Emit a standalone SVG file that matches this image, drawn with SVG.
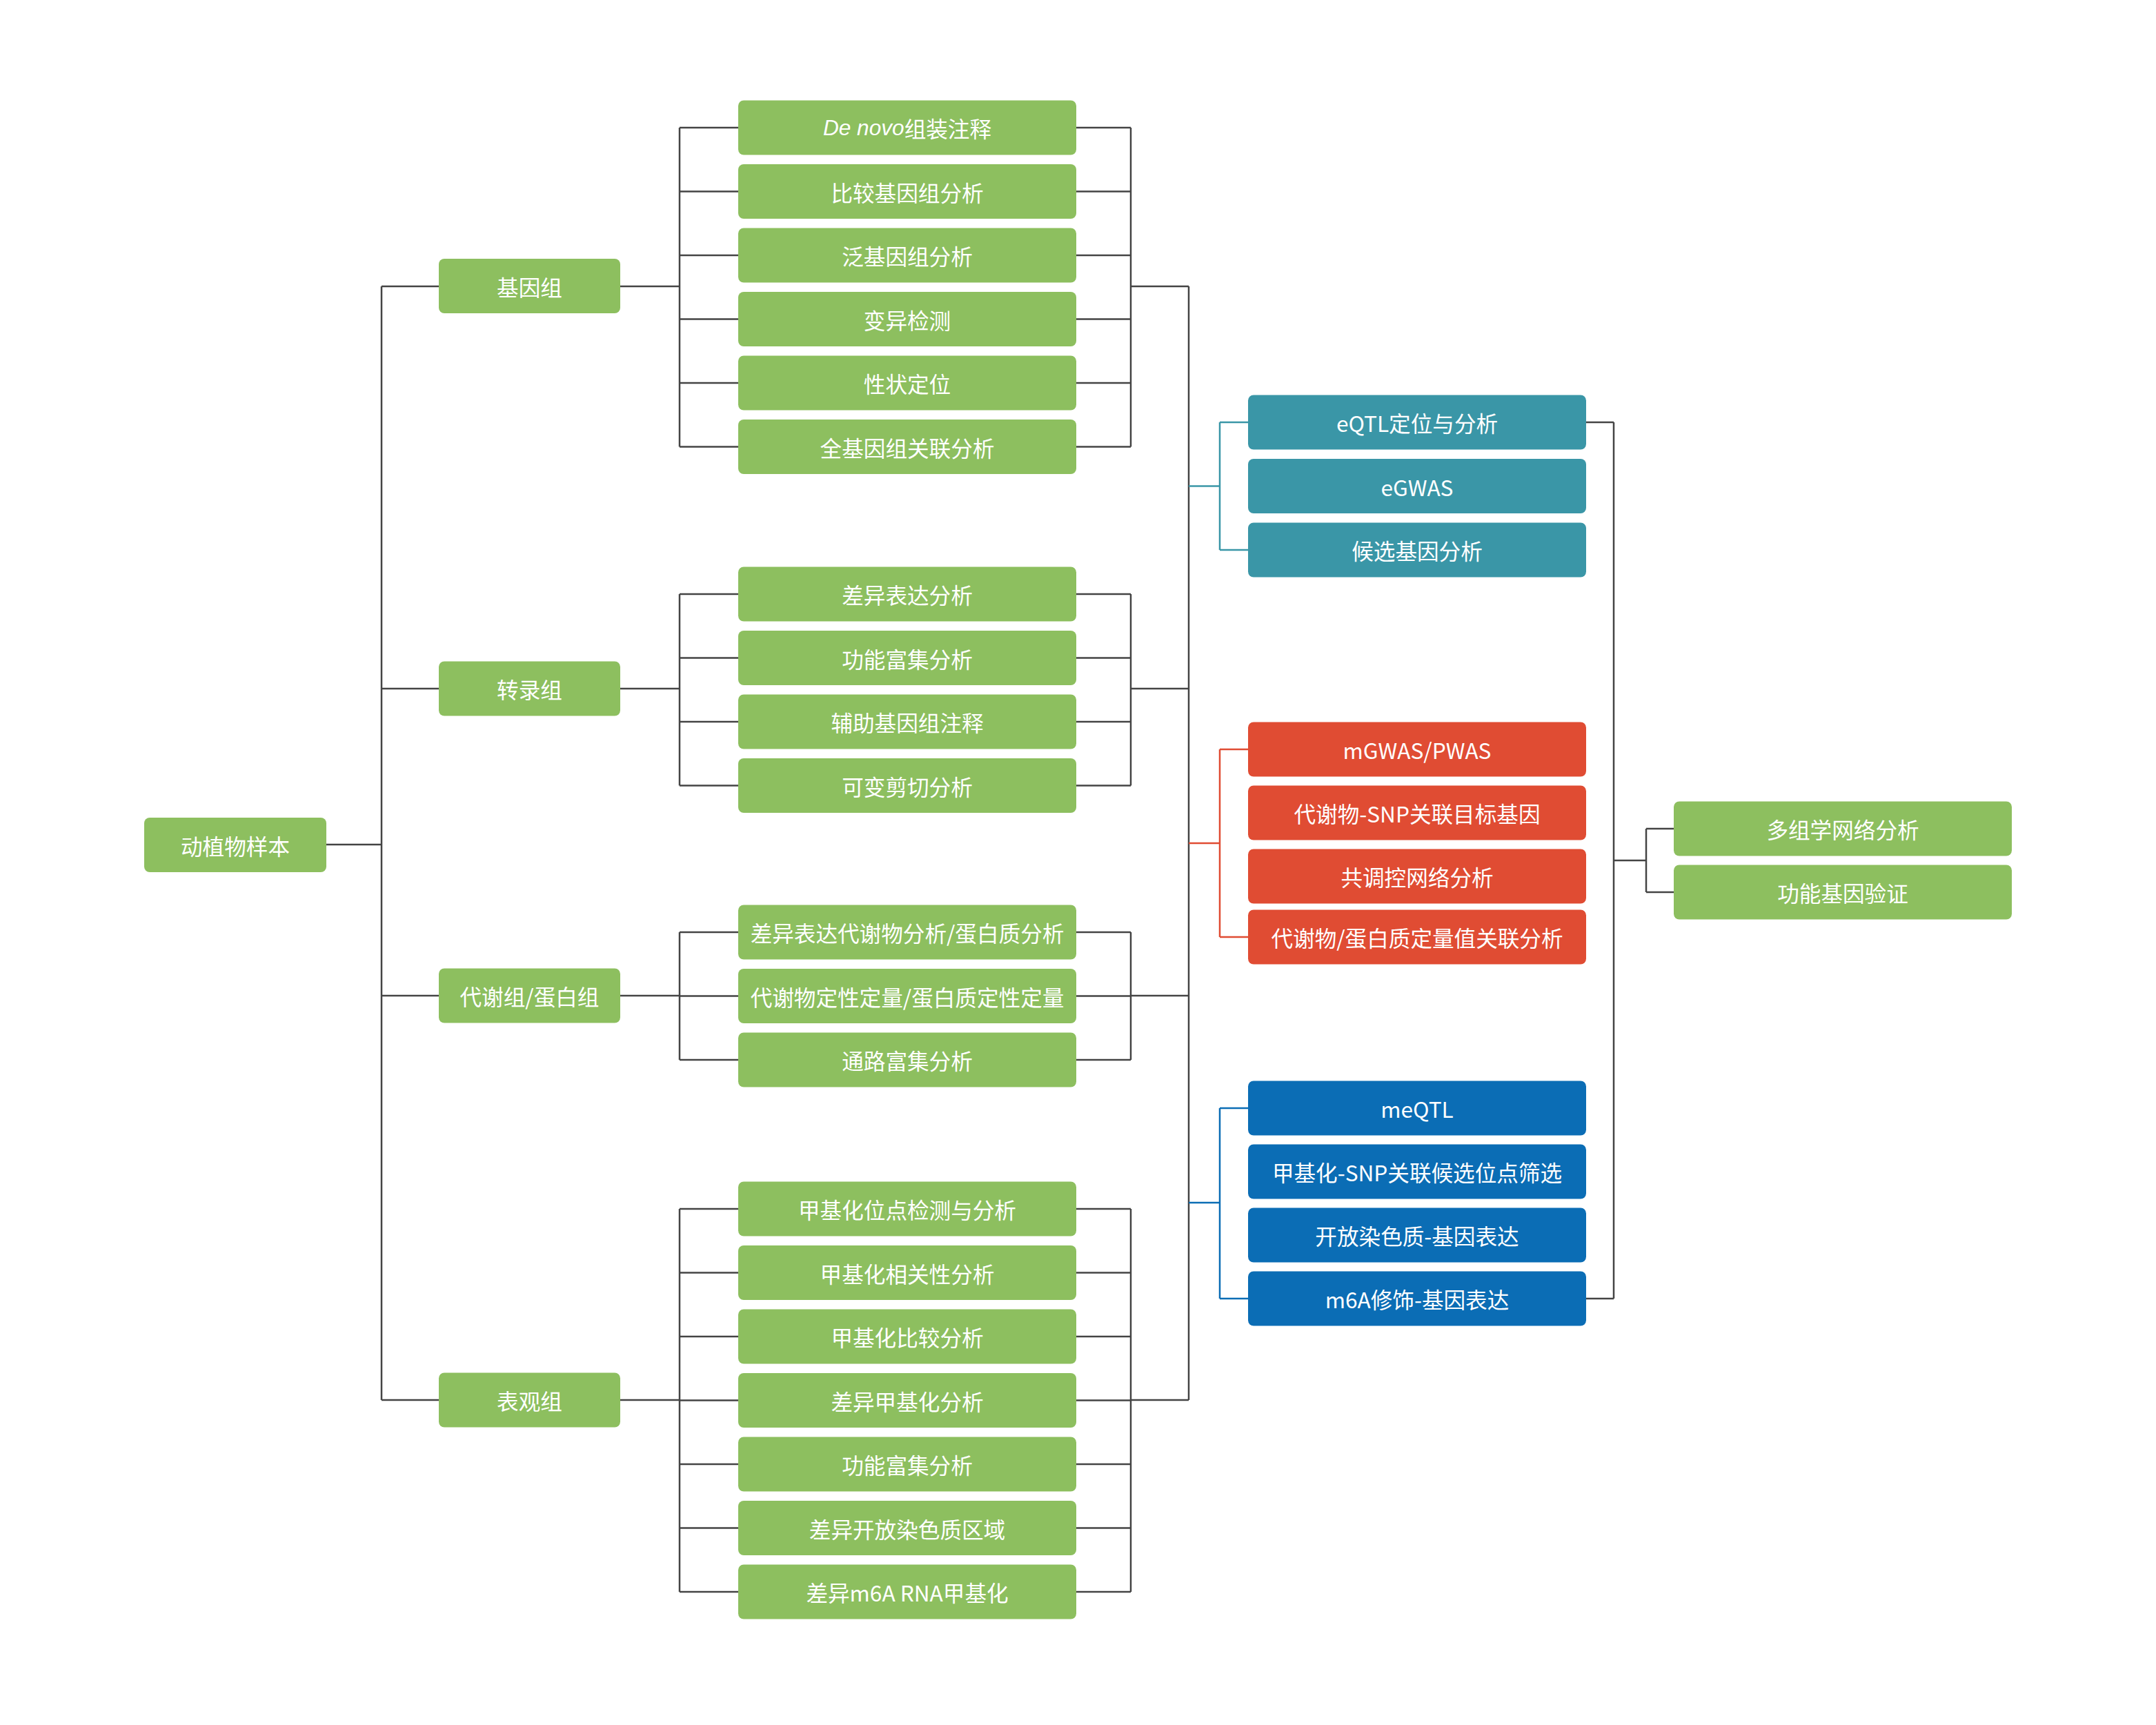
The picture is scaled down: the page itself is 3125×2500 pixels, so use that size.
<svg xmlns="http://www.w3.org/2000/svg" width="3125" height="2500" viewBox="0 0 3125 2500">
<style>
.g{fill:#8DBF5F}.t{fill:#3A96A7}.r{fill:#E04C33}.b{fill:#0B6DB5}
text{font-family:"Noto Sans CJK SC","Noto Sans",sans-serif;font-size:31.6px;font-weight:400;fill:#fff;text-anchor:middle;dominant-baseline:central}
.it{font-family:"Liberation Sans",Arial,sans-serif;font-style:italic}
.ln{fill:none;stroke:#444;stroke-width:2.5}
.lt{fill:none;stroke:#3A96A7;stroke-width:2.5}
.lr{fill:none;stroke:#E04C33;stroke-width:2.5}
.lb{fill:none;stroke:#0B6DB5;stroke-width:2.5}
</style>
<rect width="3125" height="2500" fill="#fff"/>
<g id="connectors">
<path class="ln" d="M473,1224H553M553,415V2029M553,415H636M553,998H636M553,1443H636M553,2029H636"/>
<path class="ln" d="M899,415H985M985,185V647.5M985,185H1070M985,277.5H1070M985,370H1070M985,462.5H1070M985,555H1070M985,647.5H1070"/>
<path class="ln" d="M1560,185H1639M1560,277.5H1639M1560,370H1639M1560,462.5H1639M1560,555H1639M1560,647.5H1639M1639,185V647.5M1639,415H1723"/>
<path class="ln" d="M899,998H985M985,861V1138.5M985,861H1070M985,953.5H1070M985,1046H1070M985,1138.5H1070M1560,861H1639M1560,953.5H1639M1560,1046H1639M1560,1138.5H1639M1639,861V1138.5M1639,998H1723"/>
<path class="ln" d="M899,1443H985M985,1351V1536M985,1351H1070M985,1443.5H1070M985,1536H1070M1560,1351H1639M1560,1443.5H1639M1560,1536H1639M1639,1351V1536M1639,1443H1723"/>
<path class="ln" d="M899,2029H985M985,1752V2307M985,1752H1070M985,1844.5H1070M985,1937H1070M985,2029.5H1070M985,2122H1070M985,2214.5H1070M985,2307H1070M1560,1752H1639M1560,1844.5H1639M1560,1937H1639M1560,2029.5H1639M1560,2122H1639M1560,2214.5H1639M1560,2307H1639M1639,1752V2307M1639,2029H1723"/>
<path class="ln" d="M1723,415V2029"/>
<path class="lt" d="M1723,704.5H1768M1768,612V797M1768,612H1809M1768,797H1809"/>
<path class="lr" d="M1723,1222H1768M1768,1086V1358M1768,1086H1809M1768,1358H1809"/>
<path class="lb" d="M1723,1743H1768M1768,1606V1882M1768,1606H1809M1768,1882H1809"/>
<path class="ln" d="M2299,612H2339M2299,1882H2339M2339,612V1882M2339,1247H2386M2386,1201V1293M2386,1201H2426M2386,1293H2426"/>
</g>
<g id="root"><rect class="g" x="209" y="1185" width="264" height="79" rx="8"/><text x="341" y="1224.5">动植物样本</text></g>
<g id="genome"><rect class="g" x="636" y="375" width="263" height="79" rx="8"/><text x="767.5" y="414.5">基因组</text></g>
<g id="transcriptome"><rect class="g" x="636" y="958.5" width="263" height="79" rx="8"/><text x="767.5" y="998">转录组</text></g>
<g id="metabolome"><rect class="g" x="636" y="1403.5" width="263" height="79" rx="8"/><text x="767.5" y="1443">代谢组/蛋白组</text></g>
<g id="epigenome"><rect class="g" x="636" y="1989.5" width="263" height="79" rx="8"/><text x="767.5" y="2029">表观组</text></g>

<g id="g1"><rect class="g" x="1070" y="145.5" width="490" height="79" rx="8"/><text x="1315" y="185"><tspan class="it">De novo</tspan>组装注释</text></g>
<g id="g2"><rect class="g" x="1070" y="238" width="490" height="79" rx="8"/><text x="1315" y="277.5">比较基因组分析</text></g>
<g id="g3"><rect class="g" x="1070" y="330.5" width="490" height="79" rx="8"/><text x="1315" y="370">泛基因组分析</text></g>
<g id="g4"><rect class="g" x="1070" y="423" width="490" height="79" rx="8"/><text x="1315" y="462.5">变异检测</text></g>
<g id="g5"><rect class="g" x="1070" y="515.5" width="490" height="79" rx="8"/><text x="1315" y="555">性状定位</text></g>
<g id="g6"><rect class="g" x="1070" y="608" width="490" height="79" rx="8"/><text x="1315" y="647.5">全基因组关联分析</text></g>

<g id="t1"><rect class="g" x="1070" y="821.5" width="490" height="79" rx="8"/><text x="1315" y="861">差异表达分析</text></g>
<g id="t2"><rect class="g" x="1070" y="914" width="490" height="79" rx="8"/><text x="1315" y="953.5">功能富集分析</text></g>
<g id="t3"><rect class="g" x="1070" y="1006.5" width="490" height="79" rx="8"/><text x="1315" y="1046">辅助基因组注释</text></g>
<g id="t4"><rect class="g" x="1070" y="1099" width="490" height="79" rx="8"/><text x="1315" y="1138.5">可变剪切分析</text></g>

<g id="m1"><rect class="g" x="1070" y="1311.5" width="490" height="79" rx="8"/><text x="1315" y="1351">差异表达代谢物分析/蛋白质分析</text></g>
<g id="m2"><rect class="g" x="1070" y="1404" width="490" height="79" rx="8"/><text x="1315" y="1443.5">代谢物定性定量/蛋白质定性定量</text></g>
<g id="m3"><rect class="g" x="1070" y="1496.5" width="490" height="79" rx="8"/><text x="1315" y="1536">通路富集分析</text></g>

<g id="e1"><rect class="g" x="1070" y="1712.5" width="490" height="79" rx="8"/><text x="1315" y="1752">甲基化位点检测与分析</text></g>
<g id="e2"><rect class="g" x="1070" y="1805" width="490" height="79" rx="8"/><text x="1315" y="1844.5">甲基化相关性分析</text></g>
<g id="e3"><rect class="g" x="1070" y="1897.5" width="490" height="79" rx="8"/><text x="1315" y="1937">甲基化比较分析</text></g>
<g id="e4"><rect class="g" x="1070" y="1990" width="490" height="79" rx="8"/><text x="1315" y="2029.5">差异甲基化分析</text></g>
<g id="e5"><rect class="g" x="1070" y="2082.5" width="490" height="79" rx="8"/><text x="1315" y="2122">功能富集分析</text></g>
<g id="e6"><rect class="g" x="1070" y="2175" width="490" height="79" rx="8"/><text x="1315" y="2214.5">差异开放染色质区域</text></g>
<g id="e7"><rect class="g" x="1070" y="2267.5" width="490" height="79" rx="8"/><text x="1315" y="2307">差异m6A RNA甲基化</text></g>

<g id="q1"><rect class="t" x="1809" y="572.5" width="490" height="79" rx="8"/><text x="2054" y="612">eQTL定位与分析</text></g>
<g id="q2"><rect class="t" x="1809" y="665" width="490" height="79" rx="8"/><text x="2054" y="704.5">eGWAS</text></g>
<g id="q3"><rect class="t" x="1809" y="757.5" width="490" height="79" rx="8"/><text x="2054" y="797">候选基因分析</text></g>

<g id="r1"><rect class="r" x="1809" y="1046.5" width="490" height="79" rx="8"/><text x="2054" y="1086">mGWAS/PWAS</text></g>
<g id="r2"><rect class="r" x="1809" y="1138.5" width="490" height="79" rx="8"/><text x="2054" y="1178">代谢物-SNP关联目标基因</text></g>
<g id="r3"><rect class="r" x="1809" y="1230.5" width="490" height="79" rx="8"/><text x="2054" y="1270">共调控网络分析</text></g>
<g id="r4"><rect class="r" x="1809" y="1318.5" width="490" height="79" rx="8"/><text x="2054" y="1358">代谢物/蛋白质定量值关联分析</text></g>

<g id="b1"><rect class="b" x="1809" y="1566.5" width="490" height="79" rx="8"/><text x="2054" y="1606">meQTL</text></g>
<g id="b2"><rect class="b" x="1809" y="1658.5" width="490" height="79" rx="8"/><text x="2054" y="1698">甲基化-SNP关联候选位点筛选</text></g>
<g id="b3"><rect class="b" x="1809" y="1750.5" width="490" height="79" rx="8"/><text x="2054" y="1790">开放染色质-基因表达</text></g>
<g id="b4"><rect class="b" x="1809" y="1842.5" width="490" height="79" rx="8"/><text x="2054" y="1882">m6A修饰-基因表达</text></g>

<g id="f1"><rect class="g" x="2426" y="1161.5" width="490" height="79" rx="8"/><text x="2671" y="1201">多组学网络分析</text></g>
<g id="f2"><rect class="g" x="2426" y="1253.5" width="490" height="79" rx="8"/><text x="2671" y="1293">功能基因验证</text></g>
</svg>
